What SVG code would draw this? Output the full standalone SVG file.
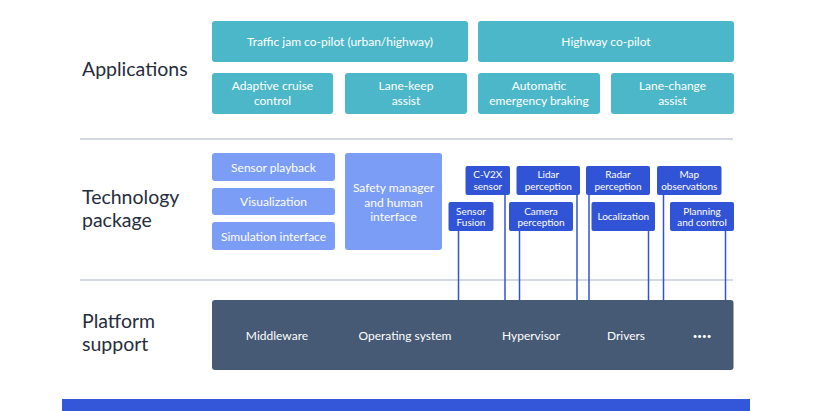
<svg xmlns="http://www.w3.org/2000/svg" width="814" height="411" viewBox="0 0 814 411">
<style>
.lbl{font-family:"Lato","Liberation Sans",sans-serif;font-size:19.5px;fill:#262d3d}
.t{font-family:"Lato","Liberation Sans",sans-serif;fill:#fff;text-anchor:middle}
.app{fill:#4cb7c9}
.tech{fill:#7c9df6}
.mod{fill:#3154d6}
.a{font-size:12px}
.m{font-size:10px}
.div{stroke:#d3d8e3;stroke-width:2}
.conn{stroke:#3154d6;stroke-width:1.5;fill:none}
</style>
<rect x="0" y="0" width="814" height="411" fill="#fff"/>
<line class="div" x1="80" y1="139" x2="733" y2="139"/>
<line class="div" x1="80" y1="280" x2="733" y2="280"/>
<text class="lbl" x="82" y="76">Applications</text>
<text class="lbl" x="82" y="204">Technology</text>
<text class="lbl" x="82" y="227">package</text>
<text class="lbl" x="82" y="328">Platform</text>
<text class="lbl" x="82" y="351">support</text>
<g id="connectors">
<line class="conn" x1="458.5" y1="231" x2="458.5" y2="300"/>
<line class="conn" x1="505" y1="195" x2="505" y2="300"/>
<line class="conn" x1="519.5" y1="231" x2="519.5" y2="300"/>
<line class="conn" x1="577" y1="195" x2="577" y2="300"/>
<line class="conn" x1="589" y1="195" x2="589" y2="300"/>
<line class="conn" x1="648.5" y1="231" x2="648.5" y2="300"/>
<line class="conn" x1="663.5" y1="195" x2="663.5" y2="300"/>
<line class="conn" x1="725.5" y1="231" x2="725.5" y2="300"/>
</g>
<g id="traffic-jam"><rect class="app" x="212" y="21" width="256" height="41" rx="3"/><text class="t a" x="340" y="46">Traffic jam co-pilot (urban/highway)</text></g>
<g id="highway"><rect class="app" x="478" y="21" width="256" height="41" rx="3"/><text class="t a" x="606" y="46">Highway co-pilot</text></g>
<g id="acc"><rect class="app" x="212" y="73" width="121" height="41" rx="3"/><text class="t a" x="272.5" y="90">Adaptive cruise</text><text class="t a" x="272.5" y="105">control</text></g>
<g id="lka"><rect class="app" x="345" y="73" width="122" height="41" rx="3"/><text class="t a" x="406" y="90">Lane-keep</text><text class="t a" x="406" y="105">assist</text></g>
<g id="aeb"><rect class="app" x="478" y="73" width="122" height="41" rx="3"/><text class="t a" x="539" y="90">Automatic</text><text class="t a" x="539" y="105">emergency braking</text></g>
<g id="lca"><rect class="app" x="611" y="73" width="123" height="41" rx="3"/><text class="t a" x="672.5" y="90">Lane-change</text><text class="t a" x="672.5" y="105">assist</text></g>
<g id="sensor-playback"><rect class="tech" x="212" y="153" width="123" height="28" rx="3"/><text class="t a" x="273.5" y="171.5">Sensor playback</text></g>
<g id="visualization"><rect class="tech" x="212" y="188" width="123" height="27" rx="3"/><text class="t a" x="273.5" y="206">Visualization</text></g>
<g id="simulation"><rect class="tech" x="212" y="222" width="123" height="28" rx="3"/><text class="t a" x="273.5" y="240.5">Simulation interface</text></g>
<g id="safety"><rect class="tech" x="345" y="153" width="97" height="97" rx="3"/><text class="t a" x="393.5" y="192">Safety manager</text><text class="t a" x="393.5" y="207">and human</text><text class="t a" x="393.5" y="221">interface</text></g>
<g id="cv2x"><rect class="mod" x="465.5" y="166" width="44.5" height="29" rx="2"/><text class="t m" x="487.8" y="178">C-V2X</text><text class="t m" x="487.8" y="190">sensor</text></g>
<g id="lidar"><rect class="mod" x="516.5" y="166" width="63.5" height="29" rx="2"/><text class="t m" x="548.3" y="178">Lidar</text><text class="t m" x="548.3" y="190">perception</text></g>
<g id="radar"><rect class="mod" x="586" y="166" width="64" height="29" rx="2"/><text class="t m" x="618" y="178">Radar</text><text class="t m" x="618" y="190">perception</text></g>
<g id="map"><rect class="mod" x="657" y="166" width="64.5" height="29" rx="2"/><text class="t m" x="689.3" y="178">Map</text><text class="t m" x="689.3" y="190">observations</text></g>
<g id="fusion"><rect class="mod" x="448.5" y="202" width="45" height="29" rx="2"/><text class="t m" x="471" y="214.5">Sensor</text><text class="t m" x="471" y="226">Fusion</text></g>
<g id="camera"><rect class="mod" x="509" y="202" width="64" height="29" rx="2"/><text class="t m" x="541" y="214.5">Camera</text><text class="t m" x="541" y="226">perception</text></g>
<g id="localization"><rect class="mod" x="591.5" y="202" width="63.5" height="29" rx="2"/><text class="t m" x="623.3" y="220">Localization</text></g>
<g id="planning"><rect class="mod" x="670" y="202" width="64" height="29" rx="2"/><text class="t m" x="702" y="214.5">Planning</text><text class="t m" x="702" y="226">and control</text></g>
<g id="platform"><rect x="212" y="300" width="521.5" height="70" rx="3" fill="#465975"/>
<text class="t a" x="277" y="340">Middleware</text>
<text class="t a" x="405" y="340">Operating system</text>
<text class="t a" x="531" y="340">Hypervisor</text>
<text class="t a" x="626" y="340">Drivers</text>
<text class="t" x="702" y="339" font-size="8">••••</text></g>
<rect x="62" y="399" width="688" height="12" fill="#3456d8"/>
</svg>
